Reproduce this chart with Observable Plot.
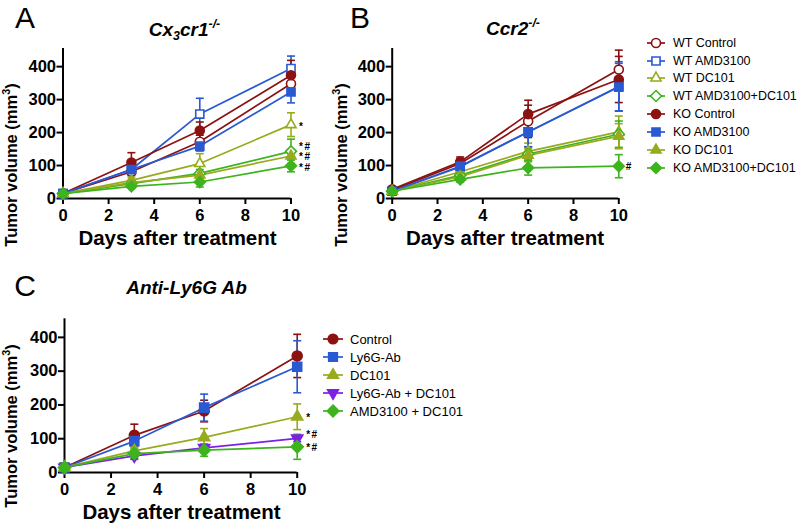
<!DOCTYPE html>
<html><head><meta charset="utf-8">
<script src="https://cdn.jsdelivr.net/npm/d3@7"></script>
<script src="https://cdn.jsdelivr.net/npm/@observablehq/plot@0.6"></script>
<style>
body{margin:0;background:#fff;}
#root{position:relative;width:802px;height:530px;overflow:hidden;font-family:"Liberation Sans",Arial,Helvetica,sans-serif;color:#000;}
.abs{position:absolute;white-space:nowrap;line-height:1;}
.c{transform:translate(-50%,-50%);}
.letter{font-size:30px;}
.title{font-size:19px;font-weight:bold;font-style:italic;}
.xlab{font-size:20.5px;font-weight:bold;}
.ylab{font-size:16.5px;font-weight:bold;transform:translate(-50%,-50%) rotate(-90deg);}
sup,sub{font-size:0.65em;line-height:0;}
.leg{transform:translateY(-50%);}
.panel{position:absolute;}
g[aria-label="text"] text{letter-spacing:1.5px;}
</style></head><body><div id="root"></div>
<script>
// ---------- DATA ----------
const days = [0, 3, 6, 10];
const xTicks = [0, 2, 4, 6, 8, 10];
const yTicks = [0, 100, 200, 300, 400];

const seriesAB = ["WT Control", "WT AMD3100", "WT DC101", "WT AMD3100+DC101",
                  "KO Control", "KO AMD3100", "KO DC101", "KO AMD3100+DC101"];
const seriesC = ["Control", "Ly6G-Ab", "DC101", "Ly6G-Ab + DC101", "AMD3100 + DC101"];

// Panel A (Cx3cr1-/-)
const valuesA = [
  [15, 81, 172, 348],
  [15, 88, 256, 394],
  [15, 55, 106, 224],
  [15, 45, 76, 143],
  [15, 109, 206, 374],
  [15, 88, 159, 323],
  [15, 48, 71, 129],
  [15, 37, 50, 99]
];
const errorsA = [
  [4, 10, 20, 30],
  [4, 12, 48, 38],
  [4, 10, 30, 36],
  [4, 8, 12, 37],
  [4, 30, 26, 45],
  [4, 12, 15, 33],
  [4, 8, 10, 12],
  [4, 6, 15, 18]
];
const annotYA = [218, 158, 126, 94];
const annotTextA = ["*", "*#", "*#", "*#"];

// Panel B (Ccr2-/-)
const valuesB = [
  [25, 106, 234, 391],
  [22, 96, 202, 340],
  [22, 81, 143, 202],
  [22, 70, 135, 195],
  [28, 111, 256, 361],
  [22, 98, 202, 338],
  [22, 66, 131, 189],
  [22, 58, 93, 98]
];
const errorsB = [
  [5, 15, 49, 59],
  [5, 12, 45, 75],
  [4, 10, 25, 48],
  [4, 10, 20, 40],
  [5, 15, 42, 70],
  [5, 10, 45, 72],
  [4, 8, 20, 38],
  [4, 8, 22, 35]
];
const annotYB = [96];
const annotTextB = ["#"];

// Panel C (Anti-Ly6G Ab)
const valuesC = [
  [15, 110, 182, 345],
  [15, 93, 192, 313],
  [15, 64, 104, 165],
  [15, 49, 73, 101],
  [15, 56, 66, 76]
];
const errorsC = [
  [5, 33, 32, 64],
  [5, 15, 40, 77],
  [4, 12, 26, 38],
  [4, 10, 10, 10],
  [4, 15, 18, 37]
];
const annotYC = [161, 113, 74];
const annotTextC = ["*", "*#", "*#"];

// ---------- STYLES ----------
const MAROON = "#8c1212", BLUE = "#2a5ad2", OLIVE = "#98aa1e", GREEN = "#3db41e", PURPLE = "#7d20e6";
const colorsAB = [MAROON, BLUE, OLIVE, GREEN, MAROON, BLUE, OLIVE, GREEN];
const shapesAB = ["circle", "square", "triangle", "diamond", "circle", "square", "triangle", "diamond"];
const openAB = [true, true, true, true, false, false, false, false];
const colorsC = [MAROON, BLUE, OLIVE, PURPLE, GREEN];
const shapesC = ["circle", "square", "triangle", "triangleDown", "diamond"];
const openC = [false, false, false, false, false];

const symbols = {
  circle: {draw(c, s) { const r = Math.sqrt(s / Math.PI); c.moveTo(r, 0); c.arc(0, 0, r, 0, 2 * Math.PI); c.closePath(); }},
  square: {draw(c, s) { const r = Math.sqrt(s / Math.PI) * 0.9; c.rect(-r, -r, 2 * r, 2 * r); }},
  triangle: {draw(c, s) { const r = Math.sqrt(s / Math.PI); c.moveTo(0, -1.3 * r); c.lineTo(1.12 * r, 0.65 * r); c.lineTo(-1.12 * r, 0.65 * r); c.closePath(); }},
  triangleDown: {draw(c, s) { const r = Math.sqrt(s / Math.PI); c.moveTo(0, 1.3 * r); c.lineTo(1.12 * r, -0.65 * r); c.lineTo(-1.12 * r, -0.65 * r); c.closePath(); }},
  diamond: {draw(c, s) { const r = Math.sqrt(s / Math.PI) * 1.22; c.moveTo(0, -r); c.lineTo(r, 0); c.lineTo(0, r); c.lineTo(-r, 0); c.closePath(); }}
};
const capSymbol = {draw(c, s) { const r = Math.sqrt(s / Math.PI); c.moveTo(-r, 0); c.lineTo(r, 0); }};

const FONT = '"Liberation Sans", Arial, Helvetica, sans-serif';
const root = document.getElementById("root");

function makePanel(names, values, errors, colors, shapes, open, annotY, annotText, g) {
  const marks = [
    Plot.ruleY([0], {strokeWidth: 2, stroke: "black"}),
    Plot.ruleX([0], {strokeWidth: 2, stroke: "black"}),
    Plot.axisX({ticks: xTicks, tickSize: 6, tickPadding: 5, strokeWidth: 2, fontSize: 16.5, fontWeight: "bold", label: null}),
    Plot.axisY({ticks: yTicks, tickSize: 6, tickPadding: 1, strokeWidth: 2, fontSize: 16.5, fontWeight: "bold", label: null})
  ];
  names.forEach((name, i) => {
    const rows = days.map((d, j) => ({name, x: d, y: values[i][j], e: errors[i][j]}));
    const col = colors[i];
    marks.push(Plot.line(rows, {x: "x", y: "y", stroke: col, strokeWidth: 1.7}));
    marks.push(Plot.ruleX(rows, {x: "x", y1: d => d.y - d.e, y2: d => d.y + d.e, stroke: col, strokeWidth: 1.6}));
    marks.push(Plot.dot(rows, {x: "x", y: d => d.y + d.e, symbol: capSymbol, r: 4, stroke: col, strokeWidth: 1.6, fill: "none"}));
    marks.push(Plot.dot(rows, {x: "x", y: d => d.y - d.e, symbol: capSymbol, r: 4, stroke: col, strokeWidth: 1.6, fill: "none"}));
  });
  names.forEach((name, i) => {
    const rows = days.map((d, j) => ({name, x: d, y: values[i][j]}));
    const col = colors[i];
    marks.push(Plot.dot(rows, {x: "x", y: "y", symbol: symbols[shapes[i]], r: g.r, stroke: col, strokeWidth: 1.6, fill: open[i] ? "white" : col}));
  });
  const ann = annotY.map((y, i) => ({x: 10, y, t: annotText[i]}));
  marks.push(Plot.text(ann, {x: "x", y: "y", text: "t", dx: g.adx, textAnchor: "start", fontSize: 10, fontWeight: "bold", fill: "black"}));

  const svg = Plot.plot({
    width: g.width, height: g.height,
    marginLeft: g.ml, marginRight: g.mr, marginTop: g.mt, marginBottom: g.mb,
    x: {domain: [0, 10]},
    y: {domain: [0, 455]},
    style: {fontFamily: FONT, background: "transparent", overflow: "visible", color: "black"},
    marks
  });
  svg.classList.add("panel");
  svg.style.left = g.left + "px";
  svg.style.top = g.top + "px";
  root.appendChild(svg);
}

makePanel(seriesAB, valuesA, errorsA, colorsAB, shapesAB, openAB, annotYA, annotTextA,
  {left: 0, top: 0, width: 320, height: 232, ml: 62.5, mr: 29.5, mt: 48, mb: 34, r: 4.5, adx: 8});
makePanel(seriesAB, valuesB, errorsB, colorsAB, shapesAB, openAB, annotYB, annotTextB,
  {left: 330, top: 0, width: 310, height: 232, ml: 61.7, mr: 21.7, mt: 48, mb: 34, r: 4.5, adx: 7});
makePanel(seriesC, valuesC, errorsC, colorsC, shapesC, openC, annotYC, annotTextC,
  {left: 0, top: 270, width: 320, height: 236, ml: 64, mr: 23.3, mt: 48.3, mb: 34, r: 5, adx: 9});

// ---------- TEXT ----------
function addText(html, cls, x, y) {
  const d = document.createElement("div");
  d.className = "abs " + cls;
  d.innerHTML = html;
  d.style.left = x + "px";
  d.style.top = y + "px";
  root.appendChild(d);
  return d;
}
addText("A", "letter c", 25, 18);
addText("B", "letter c", 360, 18);
addText("C", "letter c", 25, 286);
addText("Cx<sub>3</sub>cr1<sup>-/-</sup>", "title c", 184.5, 29);
addText("Ccr2<sup>-/-</sup>", "title c", 513, 28);
addText("Anti-Ly6G Ab", "title c", 186.5, 287);
const yLabel = "Tumor volume (mm<sup>3</sup>)";
addText(yLabel, "ylab", 11, 165);
addText(yLabel, "ylab", 341, 165);
addText(yLabel, "ylab", 11, 426);
addText("Days after treatment", "xlab c", 177.5, 238);
addText("Days after treatment", "xlab c", 505, 238);
addText("Days after treatment", "xlab c", 181.5, 512);

// ---------- LEGENDS ----------
function legend(names, colors, shapes, open, cx, lineHalf, textX, y0, step, fontSize, r) {
  names.forEach((name, i) => {
    const y = y0 + i * step;
    const p = d3.path();
    symbols[shapes[i]].draw(p, Math.PI * r * r);
    const w = lineHalf * 2 + 4;
    const svg = document.createElementNS("http://www.w3.org/2000/svg", "svg");
    svg.setAttribute("width", w); svg.setAttribute("height", 16);
    svg.style.position = "absolute";
    svg.style.left = (cx - w / 2) + "px";
    svg.style.top = (y - 8) + "px";
    svg.innerHTML = `<line x1="2" x2="${w - 2}" y1="8" y2="8" stroke="${colors[i]}" stroke-width="1.7"/>` +
      `<path transform="translate(${w / 2},8)" d="${p.toString()}" fill="${open[i] ? "white" : colors[i]}" stroke="${colors[i]}" stroke-width="1.6"/>`;
    root.appendChild(svg);
    const t = addText(name, "leg", textX, y);
    t.style.fontSize = fontSize + "px";
  });
}
legend(seriesAB, colorsAB, shapesAB, openAB, 656, 9, 673, 42.7, 17.85, 12.5, 4.5);
legend(seriesC, colorsC, shapesC, openC, 333, 10, 350, 339.3, 17.85, 13, 4.8);
</script></body></html>
